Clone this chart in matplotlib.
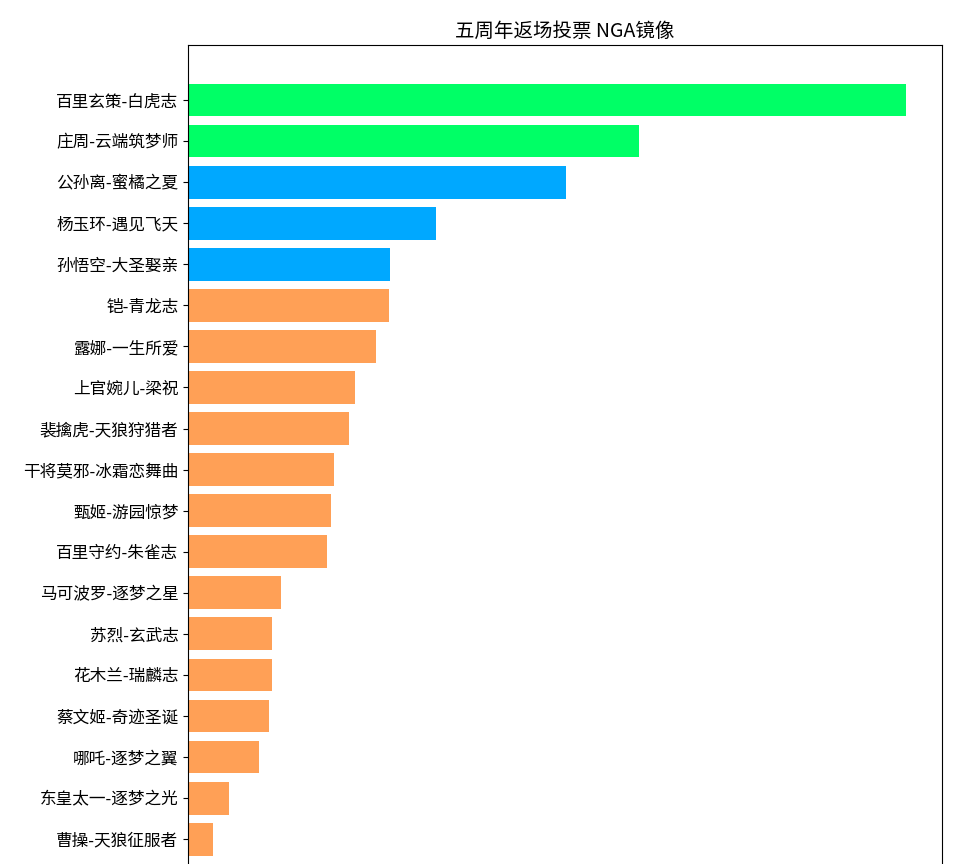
import matplotlib
matplotlib.use('Agg')
import matplotlib.pyplot as plt

plt.rcParams['font.family'] = ['Noto Sans CJK SC', 'DejaVu Sans']

# skins and their (estimated) vote counts, top to bottom
skins = ['百里玄策-白虎志', '庄周-云端筑梦师', '公孙离-蜜橘之夏', '杨玉环-遇见飞天',
         '孙悟空-大圣娶亲', '铠-青龙志', '露娜-一生所爱', '上官婉儿-梁祝',
         '裴擒虎-天狼狩猎者', '干将莫邪-冰霜恋舞曲', '甄姬-游园惊梦', '百里守约-朱雀志',
         '马可波罗-逐梦之星', '苏烈-玄武志', '花木兰-瑞麟志', '蔡文姬-奇迹圣诞',
         '哪吒-逐梦之翼', '东皇太一-逐梦之光', '曹操-天狼征服者']
votes = [718, 451, 378, 248, 202, 201, 188, 167, 161, 146, 143, 139,
         93, 84, 84, 81, 71, 41, 25]
# tier: 0 = returns, 1 = runner up, 2 = rest
tiers = [0, 0, 1, 1, 1, 2, 2, 2, 2, 2, 2, 2, 2, 2, 2, 2, 2, 2, 2]
tier_colors = ['#00FF66', '#00A8FF', '#FFA056']

fig = plt.figure(figsize=(9.6, 8.64), dpi=100)
# axes runs past the bottom edge, like the cropped reference
ax = fig.add_axes([0.196, -0.035, 0.785, 0.983])

colors = [tier_colors[t] for t in tiers]
ax.barh(range(len(skins)), votes, height=0.8, color=colors)
ax.set_yticks(range(len(skins)))
ax.set_yticklabels(skins, fontsize=12)
ax.invert_yaxis()
ax.tick_params(axis='x', bottom=False, labelbottom=False)
ax.set_title('五周年返场投票 NGA镜像', fontsize=14)

fig.savefig('out.png', dpi=100)
